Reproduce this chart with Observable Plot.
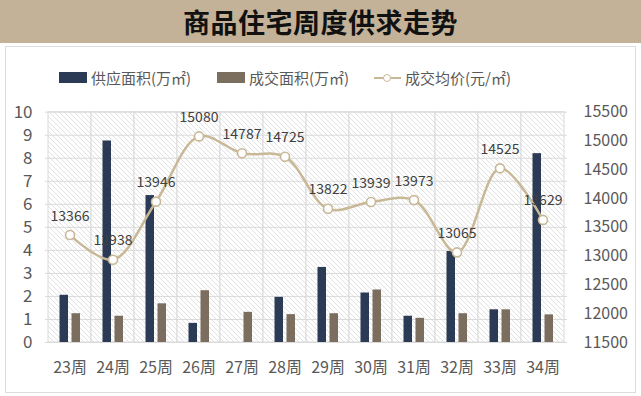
<!DOCTYPE html>
<html><head><meta charset="utf-8">
<script src="https://cdn.jsdelivr.net/npm/d3@7"></script>
<script src="https://cdn.jsdelivr.net/npm/@observablehq/plot@0.6"></script>
<style>
body{margin:0;width:641px;height:396px;overflow:hidden;background:#fff;font-family:"Noto Sans CJK SC",sans-serif;position:relative}
#title{position:absolute;left:0;top:0;width:641px;height:43px;background:#c3b298;color:#111;font-weight:bold;font-size:27px;text-align:center;line-height:43px;letter-spacing:0.5px}
#panel{position:absolute;left:5px;top:46px;width:631px;height:347px;border:1px solid #dcdcdc;box-sizing:border-box;background:#fff}
#chart{position:absolute;left:0;top:43px}
.lg{position:absolute;top:67px;height:20px;display:flex;align-items:center;font-size:15px;color:#595959;white-space:nowrap}
.sw{display:inline-block;width:28px;height:11px;margin-right:4px}
.ln{position:relative;display:inline-block;width:27px;height:11px;margin-right:4px}
.ln:before{content:"";position:absolute;left:0;right:0;top:5px;height:2px;background:#c8b896}
.ln:after{content:"";position:absolute;left:9px;top:2px;width:6px;height:6px;border:1.5px solid #c8b896;border-radius:50%;background:#fff}
</style>
</head><body>
<div id="title">商品住宅周度供求走势</div>
<div id="panel"></div>
<div class="lg" style="left:59px"><span class="sw" style="background:#2b3a55"></span>供应面积(万㎡)</div>
<div class="lg" style="left:217px"><span class="sw" style="background:#7b6e5f"></span>成交面积(万㎡)</div>
<div class="lg" style="left:374px"><span class="ln"></span>成交均价(元/㎡)</div>
<div id="chart"></div>
<script>
const weeks = ["23周","24周","25周","26周","27周","28周","29周","30周","31周","32周","33周","34周"];
const supply = [2.05, 8.75, 6.38, 0.83, 0, 1.96, 3.26, 2.15, 1.14, 3.95, 1.42, 8.2];
const deal = [1.25, 1.14, 1.68, 2.25, 1.31, 1.21, 1.25, 2.28, 1.05, 1.25, 1.42, 1.2];
const price = [13366, 12938, 13946, 15080, 14787, 14725, 13822, 13939, 13973, 13065, 14525, 13629];
const leftTicks = [0,1,2,3,4,5,6,7,8,9,10];
const rightTicks = [11500,12000,12500,13000,13500,14000,14500,15000,15500];

const pMin = rightTicks[0], pMax = rightTicks[rightTicks.length-1];
const toL = p => (p - pMin) / (pMax - pMin) * 10;
const rows = weeks.map((w,i)=>({week:w, supply:supply[i], deal:deal[i], price:price[i]}));

const lineColor = "#c8b896";
const chart = Plot.plot({
  width: 641, height: 353,
  marginLeft: 45, marginRight: 74, marginTop: 68.7, marginBottom: 54,
  style: {background: "transparent", fontFamily: "'Noto Sans CJK SC', sans-serif", color: "#595959"},
  x: {type: "band", domain: weeks, paddingInner: 0, paddingOuter: 0, axis: null},
  y: {domain: [0, 10], axis: null},
  marks: [
    Plot.barY(weeks, {x: d=>d, y1: 0, y2: 10, fill: "url(#hatch)", stroke: "#dadada", strokeWidth: 1}),
    Plot.ruleY(leftTicks, {y: d=>d, stroke: "#dadada", strokeWidth: 1}),
    Plot.barY(rows, {x: "week", y: "supply", fill: "#2b3a55", insetLeft: 11.5, insetRight: 23}),
    Plot.barY(rows, {x: "week", y: "deal", fill: "#7b6e5f", insetLeft: 23.5, insetRight: 11}),
    Plot.line(rows, {x: "week", y: d=>toL(d.price), stroke: lineColor, strokeWidth: 2.5, curve: "catmull-rom"}),
    Plot.dot(rows, {x: "week", y: d=>toL(d.price), r: 4.5, fill: "white", stroke: lineColor, strokeWidth: 1.6}),
    Plot.text(rows, {x: "week", y: d=>toL(d.price), text: d=>String(d.price), dy: -19, fontSize: 14, fill: "#404040"}),
    Plot.axisY({ticks: leftTicks, tickSize: 0, tickPadding: 13, fontSize: 17, label: null}),
    Plot.axisY({anchor: "right", ticks: rightTicks.map(toL), tickFormat: d => String(Math.round(pMin + d/10*(pMax-pMin))), tickSize: 0, tickPadding: 16, fontSize: 16, label: null}),
    Plot.axisX({tickSize: 0, tickPadding: 19, fontSize: 16, label: null})
  ]
});
const ns = "http://www.w3.org/2000/svg";
const defs = document.createElementNS(ns, "defs");
defs.innerHTML = '<pattern id="hatch" patternUnits="userSpaceOnUse" width="5" height="5"><rect width="5" height="5" fill="#ffffff"/><path d="M-1,-1 L6,6 M-1,4 L1,6 M4,-1 L6,1" stroke="#dedede" stroke-width="0.9"/></pattern>';
chart.insertBefore(defs, chart.firstChild);
document.getElementById("chart").appendChild(chart);
</script>
</body></html>
